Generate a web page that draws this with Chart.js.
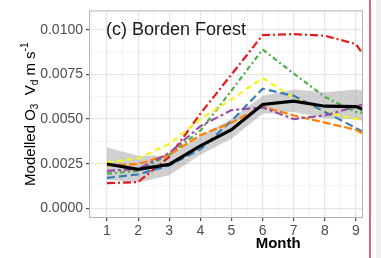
<!DOCTYPE html>
<html>
<head>
<meta charset="utf-8">
<script src="https://cdn.jsdelivr.net/npm/chart.js@4"></script>
<style>
html,body{margin:0;padding:0;background:#fff;}
#wrap{position:relative;width:381px;height:258px;overflow:hidden;}
#c{position:absolute;left:0;top:0;}
#rline{position:absolute;left:369px;top:0;width:2px;height:258px;background:#d9667f;}
#rstrip{position:absolute;left:376px;top:0;width:5px;height:258px;background:#f0f0f0;}
</style>
</head>
<body>
<div id="wrap">
<canvas id="c" width="381" height="258"></canvas>
<div id="rline"></div>
<div id="rstrip"></div>
</div>
<script>
// ---- data ----
const months     = [1, 2, 3, 4, 5, 6, 7, 8, 9, 10];
const meanVd     = [0.00248, 0.00218, 0.00246, 0.00350, 0.00440, 0.00582, 0.00600, 0.00572, 0.00570, 0.00500];
const bandUpper  = [0.00340, 0.00295, 0.00295, 0.00405, 0.00500, 0.00630, 0.00665, 0.00650, 0.00665, 0.00640];
const bandLower  = [0.00160, 0.00145, 0.00185, 0.00300, 0.00390, 0.00530, 0.00540, 0.00505, 0.00500, 0.00440];
const seriesRed    = [0.00141, 0.00147, 0.00288, 0.00530, 0.00750, 0.00970, 0.00976, 0.00967, 0.00920, 0.00660];
const seriesGreen  = [0.00194, 0.00210, 0.00300, 0.00435, 0.00660, 0.00890, 0.00755, 0.00624, 0.00540, 0.00520];
const seriesYellow = [0.00257, 0.00280, 0.00360, 0.00500, 0.00610, 0.00730, 0.00620, 0.00540, 0.00500, 0.00490];
const seriesBlue   = [0.00170, 0.00190, 0.00240, 0.00330, 0.00490, 0.00670, 0.00630, 0.00540, 0.00450, 0.00350];
const seriesOrange = [0.00240, 0.00248, 0.00300, 0.00410, 0.00480, 0.00570, 0.00520, 0.00480, 0.00440, 0.00340];
const seriesPurple = [0.00210, 0.00220, 0.00310, 0.00460, 0.00550, 0.00565, 0.00500, 0.00520, 0.00570, 0.00620];
const xTicks = [1, 2, 3, 4, 5, 6, 7, 8, 9];
const yTicks = [0, 0.0025, 0.005, 0.0075, 0.01];
const panelTitle = "(c) Borden Forest";
const xTitle = "Month";

const pts = arr => months.map((m, i) => ({x: m, y: arr[i]}));

function line(data, color, dash, width) {
  return {data: pts(data), borderColor: color, borderWidth: width, borderDash: dash,
          pointRadius: 0, fill: false, tension: 0, clip: 0, borderCapStyle: 'butt'};
}

const datasets = [
  line(meanVd, '#000000', [], 3.2),
  line(seriesPurple, '#984ea3', [8, 3, 3, 3], 2.2),
  line(seriesOrange, '#ff7f00', [8, 3], 2.2),
  line(seriesBlue, '#377eb8', [8, 4], 2.2),
  line(seriesYellow, '#f5f51c', [6, 4], 2.2),
  line(seriesGreen, '#4daf4a', [5, 3, 2, 3], 2.2),
  line(seriesRed, '#e41a1c', [8, 3, 2, 3], 2.2),
  {data: pts(bandUpper), borderWidth: 0, pointRadius: 0, fill: {target: 8},
   backgroundColor: 'rgba(150,150,150,0.45)', borderColor: 'rgba(0,0,0,0)', clip: 0, tension: 0},
  {data: pts(bandLower), borderWidth: 0, pointRadius: 0, fill: false,
   borderColor: 'rgba(0,0,0,0)', clip: 0, tension: 0}
];

const xGrid = [0.5];
xTicks.forEach(v => { xGrid.push(v); xGrid.push(v + 0.5); });
const yGrid = [];
yTicks.forEach(v => { yGrid.push(v); if (v + 0.00125 < 0.011) yGrid.push(+(v + 0.00125).toFixed(5)); });

const isMajorX = v => xTicks.includes(v);
const isMajorY = v => yTicks.some(t => Math.abs(t - v) < 1e-9);

const decor = {
  id: 'decor',
  afterDraw(chart) {
    const ctx = chart.ctx, a = chart.chartArea;
    ctx.save();
    // panel border
    ctx.strokeStyle = '#b3b3b3';
    ctx.lineWidth = 1;
    ctx.strokeRect(a.left - 0.5, a.top - 0.5, a.right - a.left + 1, a.bottom - a.top + 1);
    // panel title
    ctx.fillStyle = '#1a1a1a';
    ctx.font = '18px "Liberation Sans", Arial, sans-serif';
    ctx.textBaseline = 'alphabetic';
    ctx.textAlign = 'left';
    ctx.fillText(panelTitle, 106, 35);
    // x axis title
    ctx.font = 'bold 15px "Liberation Sans", Arial, sans-serif';
    ctx.fillStyle = '#000';
    ctx.textAlign = 'center';
    ctx.textBaseline = 'middle';
    ctx.fillText(xTitle, chart.scales.x.getPixelForValue(6.5), 244);
    // y axis title with sub/superscripts
    const parts = [
      {t: 'Modelled O', s: 15, dy: 0},
      {t: '3', s: 10, dy: 3},
      {t: '  V', s: 15, dy: 0},
      {t: 'd', s: 10, dy: 3},
      {t: ' m s', s: 15, dy: 0},
      {t: '-1', s: 10, dy: -7}
    ];
    let total = 0;
    parts.forEach(p => { ctx.font = p.s + 'px "Liberation Sans", Arial, sans-serif'; p.w = ctx.measureText(p.t).width; total += p.w; });
    const cy = (a.top + a.bottom) / 2;
    ctx.translate(35, cy);
    ctx.rotate(-Math.PI / 2);
    ctx.textAlign = 'left';
    ctx.textBaseline = 'alphabetic';
    let x = -total / 2;
    parts.forEach(p => {
      ctx.font = p.s + 'px "Liberation Sans", Arial, sans-serif';
      ctx.fillText(p.t, x, p.dy);
      x += p.w;
    });
    ctx.restore();
  }
};

new Chart(document.getElementById('c'), {
  type: 'line',
  data: {datasets},
  options: {
    responsive: false,
    animation: false,
    events: [],
    layout: {padding: {left: 0, right: 19, top: 5, bottom: 0}},
    plugins: {legend: {display: false}, tooltip: {enabled: false}},
    scales: {
      x: {
        type: 'linear', min: 0.454, max: 9.193,
        afterBuildTicks: s => { s.ticks = xGrid.map(v => ({value: v})); },
        afterFit: s => { s.height = 41; },
        ticks: {
          autoSkip: false, maxRotation: 0, padding: 2, color: '#4d4d4d',
          font: {size: 14, family: '"Liberation Sans", Arial, sans-serif'},
          callback: v => isMajorX(v) ? String(v) : ''
        },
        grid: {
          color: c => isMajorX(c.tick.value) ? '#e6e6e6' : '#f3f3f3',
          lineWidth: c => isMajorX(c.tick.value) ? 1.2 : 1,
          tickColor: c => isMajorX(c.tick.value) ? '#4d4d4d' : 'rgba(0,0,0,0)',
          tickLength: 4, drawTicks: true
        },
        border: {display: false}
      },
      y: {
        type: 'linear', min: -0.000489, max: 0.011033,
        afterBuildTicks: s => { s.ticks = yGrid.map(v => ({value: v})); },
        afterFit: s => { s.width = 90; },
        ticks: {
          autoSkip: false, padding: 3, color: '#4d4d4d',
          font: {size: 14, family: '"Liberation Sans", Arial, sans-serif'},
          callback: v => isMajorY(v) ? v.toFixed(4) : ''
        },
        grid: {
          color: c => isMajorY(c.tick.value) ? '#e6e6e6' : '#f3f3f3',
          lineWidth: c => isMajorY(c.tick.value) ? 1.2 : 1,
          tickColor: c => isMajorY(c.tick.value) ? '#4d4d4d' : 'rgba(0,0,0,0)',
          tickLength: 4, drawTicks: true
        },
        border: {display: false}
      }
    }
  },
  plugins: [decor]
});
</script>
</body>
</html>
